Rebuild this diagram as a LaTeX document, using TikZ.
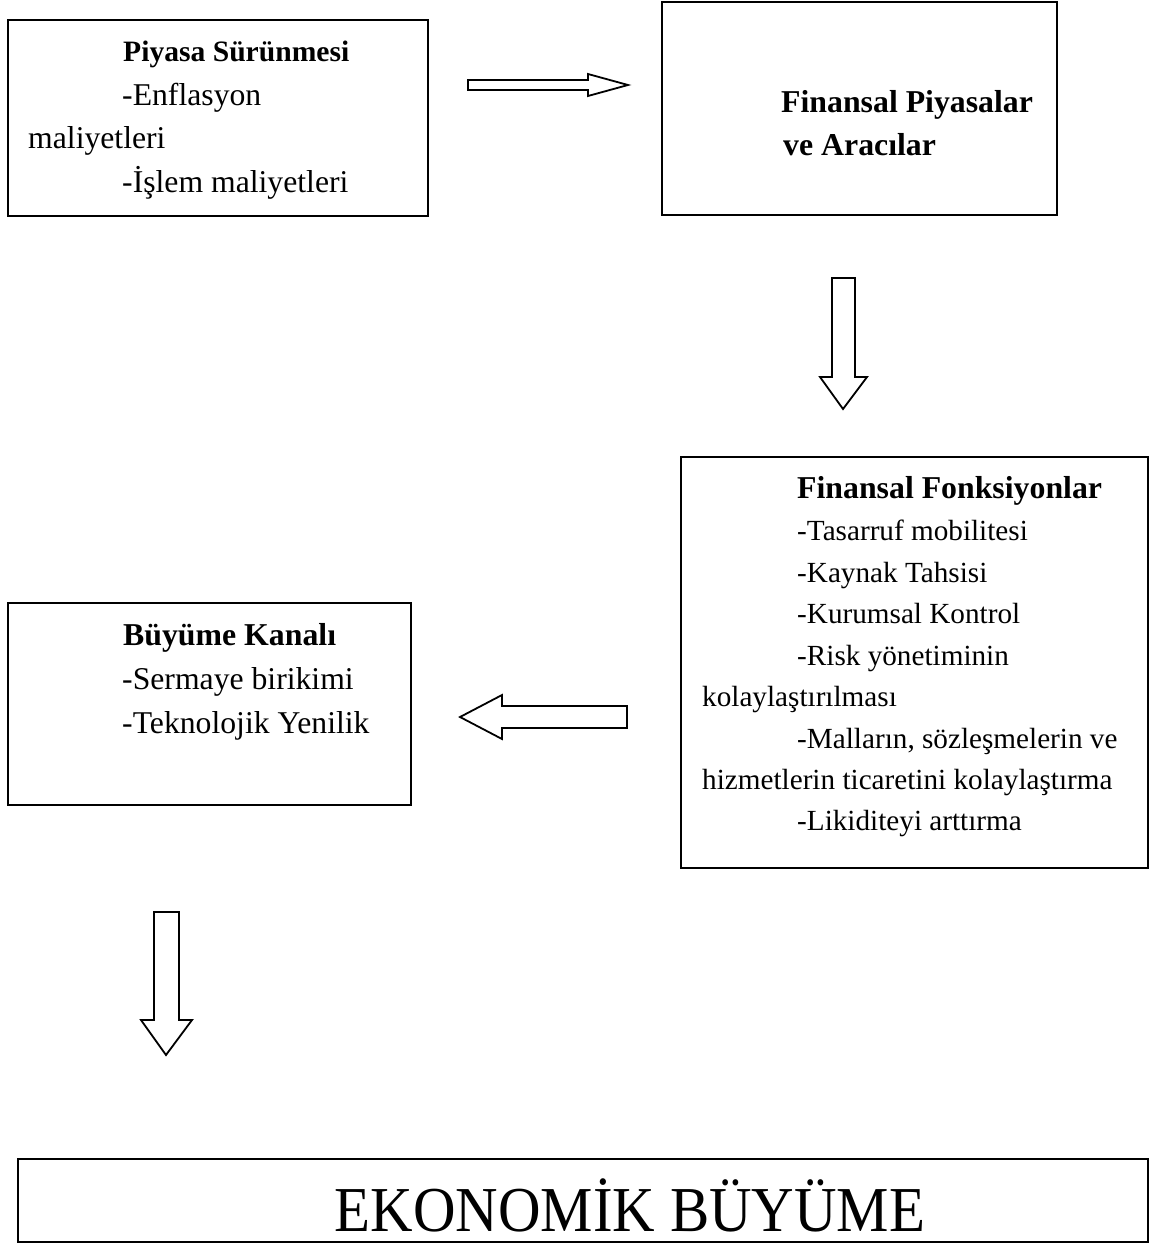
\documentclass[tikz,border=0pt]{standalone}
\usepackage{fontspec}
\setmainfont{Liberation Serif}
\begin{document}
\begin{tikzpicture}[x=1pt,y=-1pt,
  box/.style={draw, line width=1.8pt, inner sep=0pt, outer sep=0pt, anchor=north west},
  txt/.style={anchor=base west, inner sep=0pt, font=\fontsize{31.7}{38}\selectfont},
  txtsm/.style={anchor=base west, inner sep=0pt, font=\fontsize{29.2}{35}\selectfont},
  hd/.style={anchor=base west, inner sep=0pt, font=\fontsize{31.8}{38}\selectfont\bfseries},
  hdsm/.style={anchor=base west, inner sep=0pt, font=\fontsize{29.6}{35}\selectfont\bfseries},
  blockarrow/.style={draw, line width=1.8pt, fill=white, line join=miter}]
\useasboundingbox (0,0) rectangle (1152,1244);

% boxes
\node[box, minimum width=420pt, minimum height=196pt] (b1) at (8,20) {};
\node[box, minimum width=395pt, minimum height=213pt] (b2) at (662,2) {};
\node[box, minimum width=467pt, minimum height=411pt] (b3) at (681,457) {};
\node[box, minimum width=403pt, minimum height=202pt] (b4) at (8,603) {};
\node[box, minimum width=1130pt, minimum height=83pt] (b5) at (18,1159) {};

% box 1 text
\node[hdsm] (t11) at (123,62) {Piyasa Sürünmesi};
\node[txt] (t12) at (122,106) {-Enflasyon};
\node[txt] (t13) at (28,149) {maliyetleri};
\node[txt] (t14) at (122,192) {-İşlem maliyetleri};

% box 2 text
\node[hd] (t21) at (781,113) {Finansal Piyasalar};
\node[hd] (t22) at (783,155) {ve Aracılar};

% box 3 text
\node[hd] (t31) at (797,498) {Finansal Fonksiyonlar};
\node[txtsm] (t32) at (797,540.5) {-Tasarruf mobilitesi};
\node[txtsm] (t33) at (797,582) {-Kaynak Tahsisi};
\node[txtsm] (t34) at (797,623.5) {-Kurumsal Kontrol};
\node[txtsm] (t35) at (797,665) {-Risk yönetiminin};
\node[txtsm] (t36) at (702,706.5) {kolaylaştırılması};
\node[txtsm] (t37) at (797,748) {-Malların, sözleşmelerin ve};
\node[txtsm] (t38) at (702,789.5) {hizmetlerin ticaretini kolaylaştırma};
\node[txtsm] (t39) at (797,830) {-Likiditeyi arttırma};

% box 4 text
\node[hd] (t41) at (123,645) {Büyüme Kanalı};
\node[txt] (t42) at (122,689) {-Sermaye birikimi};
\node[txt] (t43) at (122,733) {-Teknolojik Yenilik};

% box 5 text
\node[anchor=base, inner sep=0pt, font=\fontsize{64}{70}\selectfont] (t51) at (630,1231) {\scalebox{0.92}[1]{EKONOMİK BÜYÜME}};

% block arrows
\draw[blockarrow] (468,80) -- (588,80) -- (588,74) -- (628,85) -- (588,96) -- (588,90) -- (468,90) -- cycle;
\draw[blockarrow] (832,278) -- (855,278) -- (855,377) -- (867,377) -- (843,409) -- (820,377) -- (832,377) -- cycle;
\draw[blockarrow] (627,706) -- (502,706) -- (502,695) -- (460,717) -- (502,739) -- (502,728) -- (627,728) -- cycle;
\draw[blockarrow] (154,912) -- (179,912) -- (179,1020) -- (192,1020) -- (166,1055) -- (141,1020) -- (154,1020) -- cycle;
\end{tikzpicture}
\end{document}
